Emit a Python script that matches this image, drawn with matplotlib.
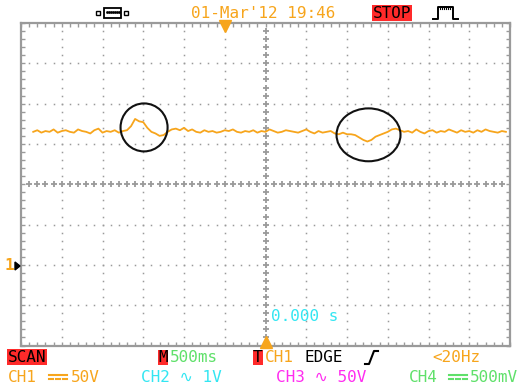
import numpy as np
import matplotlib
matplotlib.use("Agg")
import matplotlib.pyplot as plt
from matplotlib.patches import Ellipse, Rectangle, Polygon

# CH1 capture, 500 ms/div, 50 V/div, ground marker two divisions below centre
t_start, t_end = -2.85, 2.95
ch1_volts = [
    165, 167, 164, 166, 165, 168, 164, 166, 167, 165, 164, 168, 166, 165, 163, 167,
    169, 164, 166, 165, 167, 164, 166,
    167, 172, 181, 178, 177, 170, 165, 163, 160, 161, 165, 168, 169,
    167, 170, 166, 168, 165, 164, 167, 165, 166, 164, 165, 167, 166, 168, 165, 164,
    166, 165, 167, 164, 166, 165, 168, 166, 164, 165, 167, 166, 165, 164, 166, 168,
    165, 163, 166, 164, 165, 166,
    163, 162, 164, 162, 162, 161, 158, 155, 153, 155, 159, 161, 163, 165, 168, 169, 167,
    165, 166, 164, 168, 165, 163, 166, 167, 164, 166, 165, 168, 166, 164, 167, 165,
    166, 164, 167, 165, 168, 166, 165, 164, 166, 165,
]
time_per_div = 0.5
volts_per_div = 50
ground_div = -2

ORANGE = "#f7a51c"
CYAN = "#33e6f2"
MAGENTA = "#ff2cf0"
GREEN = "#5fe06a"
RED = "#ff2a2a"
GRID = "#9a9a9a"
MONO = ["DejaVu Sans Mono", "DejaVu Sans"]

W, H = 520, 385
fig = plt.figure(figsize=(W / 100, H / 100), dpi=100)
fig.patch.set_facecolor("white")


def fx(px):
    return px / W


def fy(py):
    return 1 - py / H


ax = fig.add_axes([fx(21), fy(345.5), (510 - 21) / W, (345.5 - 23) / H])
x0, x1 = -6 * time_per_div, 6 * time_per_div
y0 = (-4 - ground_div) * volts_per_div
y1 = (4 - ground_div) * volts_per_div
ax.set_xlim(x0, x1)
ax.set_ylim(y0, y1)
ax.set_facecolor("white")
for s in ax.spines.values():
    s.set_color(GRID)
    s.set_linewidth(1.6)

# small ticks along the screen border, five per division
ax.set_xticks(np.linspace(x0, x1, 61))
ax.set_yticks(np.linspace(y0, y1, 41))
ax.tick_params(which="both", direction="in", length=3, width=1, color=GRID,
               top=True, right=True, labelbottom=False, labelleft=False)

# dotted graticule
xc = (x0 + x1) / 2
yc = (y0 + y1) / 2
sub_x = np.linspace(x0, x1, 61)[1:-1]
sub_y = np.linspace(y0, y1, 41)[1:-1]
for gx in np.linspace(x0, x1, 13)[1:-1]:
    if np.isclose(gx, xc):
        continue
    ax.plot(np.full_like(sub_y, gx), sub_y, ls="none", marker="s", ms=1.1,
            mec="none", mfc=GRID)
for gy in np.linspace(y0, y1, 9)[1:-1]:
    if np.isclose(gy, yc):
        continue
    ax.plot(sub_x, np.full_like(sub_x, gy), ls="none", marker="s", ms=1.1,
            mec="none", mfc=GRID)
ax.plot(np.full_like(sub_y, xc), sub_y, ls="none", marker="+", ms=5, mew=1.3,
        color=GRID)
ax.plot(sub_x, np.full_like(sub_x, yc), ls="none", marker="+", ms=5, mew=1.3,
        color=GRID)

# trace
t = np.linspace(t_start, t_end, len(ch1_volts))
ax.plot(t, ch1_volts, color=ORANGE, lw=1.3, zorder=5)

# highlighted events
ax.add_patch(Ellipse((-1.49, 170.5), 0.577, 59.5, fill=False, ec="#111111", lw=1.5, zorder=6))
ax.add_patch(Ellipse((1.264, 161.3), 0.785, 65.6, fill=False, ec="#111111", lw=1.5, zorder=6))

# trigger position markers
ax.plot([-0.5], [y1 - 4], marker="v", ms=8, color=ORANGE, clip_on=False, zorder=7)
ax.plot([xc], [y0 + 4], marker="^", ms=8, color=ORANGE, clip_on=False, zorder=7)
ax.text(0.07, -64, "0.000 s", color=CYAN, fontsize=11.5, family=MONO,
        va="center", ha="left")

# channel 1 ground marker
fig.text(fx(5), fy(266), "1", color=ORANGE, fontsize=11.5, family=MONO,
         va="center", ha="left", weight="bold")
fig.patches.append(Polygon([[fx(15), fy(262)], [fx(15), fy(270)], [fx(20), fy(266)]],
                           closed=True, color="black", transform=fig.transFigure))

# top status line
fig.text(fx(263), fy(13), "01-Mar'12 19:46", color=ORANGE, fontsize=11.5,
         family=MONO, ha="center", va="center")
fig.text(fx(373), fy(13), "STOP", color="black", fontsize=11.5, family=MONO,
         ha="left", va="center",
         bbox=dict(boxstyle="square,pad=0.05", fc=RED, ec="none"))

# connector icon
fig.patches.append(Rectangle((fx(104), fy(18)), 17 / W, 10 / H, fill=False, ec="black",
                             lw=1.3, transform=fig.transFigure))
for xx in (96, 124):
    fig.patches.append(Rectangle((fx(xx), fy(15)), 4 / W, 4 / H, fill=False,
                                 ec="black", lw=1, transform=fig.transFigure))
for xx in range(107, 120, 2):
    fig.lines.append(plt.Line2D([fx(xx)], [fy(12)], marker="s", ms=0.9, color="black",
                                transform=fig.transFigure))

# acquisition mode icon
fig.lines.append(plt.Line2D([fx(433), fx(438), fx(438), fx(453), fx(453), fx(458)],
                            [fy(19), fy(19), fy(7), fy(7), fy(19), fy(19)],
                            color="black", lw=1.4, transform=fig.transFigure))
for xx in range(440, 452, 2):
    fig.lines.append(plt.Line2D([fx(xx), fx(xx)], [fy(7), fy(9)], color="black",
                                lw=0.8, transform=fig.transFigure))


def dc_symbol(x, y, color):
    # DC coupling sign: solid bar over a dashed bar
    fig.lines.append(plt.Line2D([fx(x), fx(x + 18)], [fy(y), fy(y)], color=color,
                                lw=1.5, transform=fig.transFigure))
    for dx in (0, 7, 14):
        fig.lines.append(plt.Line2D([fx(x + dx), fx(x + dx + 4)], [fy(y + 4), fy(y + 4)],
                                    color=color, lw=1.5, transform=fig.transFigure))


# bottom status lines
row1, row2 = fy(357), fy(377)
fs = 11.5
fig.text(fx(8), row1, "SCAN", color="black", fontsize=fs, family=MONO, va="center",
         bbox=dict(boxstyle="square,pad=0.05", fc=RED, ec="none"))
fig.text(fx(158), row1, "M", color="black", fontsize=fs, family=MONO, va="center",
         bbox=dict(boxstyle="square,pad=0.0", fc=RED, ec="none"))
fig.text(fx(170), row1, "500ms", color=GREEN, fontsize=fs, family=MONO, va="center")
fig.text(fx(253), row1, "T", color="black", fontsize=fs, family=MONO, va="center",
         bbox=dict(boxstyle="square,pad=0.0", fc=RED, ec="none"))
fig.text(fx(265), row1, "CH1", color=ORANGE, fontsize=fs, family=MONO, va="center")
fig.text(fx(304), row1, "EDGE", color="black", fontsize=fs, family=MONO, va="center")
fig.lines.append(plt.Line2D([fx(365), fx(369), fx(374), fx(378)],
                            [fy(364), fy(364), fy(351), fy(351)],
                            color="black", lw=1.5, transform=fig.transFigure))
fig.text(fx(432), row1, "<20Hz", color=ORANGE, fontsize=fs, family=MONO, va="center")

fig.text(fx(8), row2, "CH1", color=ORANGE, fontsize=fs, family=MONO, va="center")
dc_symbol(49, 375, ORANGE)
fig.text(fx(71), row2, "50V", color=ORANGE, fontsize=fs, family=MONO, va="center")
fig.text(fx(141), row2, "CH2 \u223f 1V", color=CYAN, fontsize=fs, family=MONO,
         va="center")
fig.text(fx(276), row2, "CH3 \u223f 50V", color=MAGENTA, fontsize=fs, family=MONO,
         va="center")
fig.text(fx(409), row2, "CH4", color=GREEN, fontsize=fs, family=MONO, va="center")
dc_symbol(449, 375, GREEN)
fig.text(fx(470), row2, "500mV", color=GREEN, fontsize=fs, family=MONO, va="center")

fig.savefig("out.png", dpi=100)
